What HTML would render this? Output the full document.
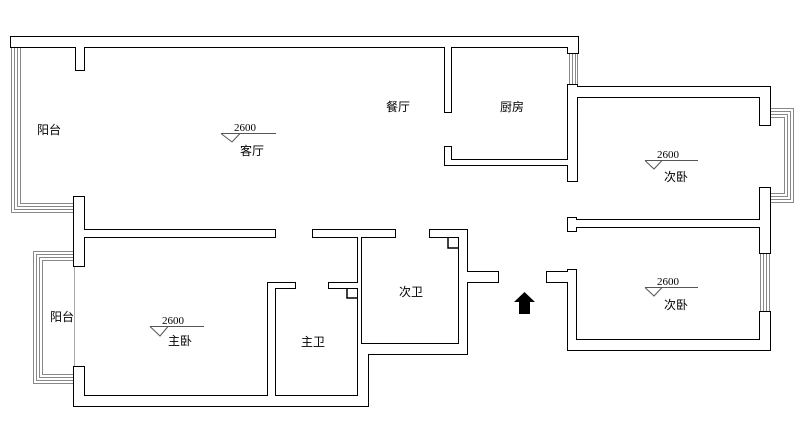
<!DOCTYPE html>
<html><head><meta charset="utf-8"><style>
html,body{margin:0;padding:0;background:#fff;width:800px;height:439px;overflow:hidden}
svg{display:block}
text{font-family:"Liberation Sans","Noto Sans CJK SC",sans-serif;fill:#000}
.n{font-family:"Liberation Serif",serif;font-size:11px}
.l{font-size:12px}
</style></head><body>
<svg width="800" height="439" viewBox="0 0 800 439" xmlns="http://www.w3.org/2000/svg">
<g fill="none" stroke="#888" stroke-width="1">
<polyline points="11.5,47 11.5,212.5 74,212.5"/>
<polyline points="14.5,47 14.5,209.5 74,209.5"/>
<polyline points="17.5,47 17.5,206.5 74,206.5"/>
<polyline points="20.5,47 20.5,203.5 74,203.5"/>
<polyline points="74,251.5 33.5,251.5 33.5,383.5 74,383.5"/>
<polyline points="74,254.5 36.5,254.5 36.5,380.5 74,380.5"/>
<polyline points="74,257.5 39.5,257.5 39.5,377.5 74,377.5"/>
<polyline points="74,260.5 42.5,260.5 42.5,374.5 74,374.5"/>
<line x1="74.5" y1="266" x2="74.5" y2="367" stroke="#aaa"/>
<polyline points="770,108.5 793.5,108.5 793.5,202.5 770,202.5"/>
<polyline points="770,111.5 790.5,111.5 790.5,199.5 770,199.5"/>
<polyline points="770,114.5 787.5,114.5 787.5,196.5 770,196.5"/>
<polyline points="770,117.5 784.5,117.5 784.5,193.5 770,193.5"/>
<rect x="569.5" y="53.5" width="8" height="31"/>
<line x1="572.5" y1="54" x2="572.5" y2="84"/><line x1="575.5" y1="54" x2="575.5" y2="84"/>
<rect x="760.5" y="253.5" width="9" height="59"/>
<line x1="763.5" y1="254" x2="763.5" y2="312"/><line x1="766.5" y1="254" x2="766.5" y2="312"/>
</g>
<g fill="#000" stroke="#000" stroke-width="2">
<rect x="11" y="37" width="567" height="10"/>
<rect x="76" y="47" width="8" height="23"/>
<rect x="74" y="197" width="10" height="69"/>
<rect x="74" y="230" width="201" height="7"/>
<rect x="74" y="367" width="10" height="39"/>
<rect x="74" y="396" width="294" height="10"/>
<rect x="358" y="237" width="3" height="159"/>
<rect x="358" y="354" width="10" height="52"/>
<rect x="361" y="344" width="106" height="10"/>
<rect x="313" y="230" width="82" height="7"/>
<rect x="430" y="230" width="37" height="7"/>
<rect x="459" y="230" width="8" height="124"/>
<rect x="459" y="272" width="39" height="10"/>
<rect x="268" y="283" width="7" height="113"/>
<rect x="268" y="283" width="27" height="5"/>
<rect x="329" y="283" width="32" height="5"/>
<rect x="445" y="47" width="6" height="65"/>
<rect x="445" y="147" width="6" height="18"/>
<rect x="445" y="160" width="124" height="5"/>
<rect x="568" y="37" width="10" height="16"/>
<rect x="568" y="85" width="9" height="96"/>
<rect x="568" y="87" width="202" height="10"/>
<rect x="760" y="87" width="10" height="38"/>
<rect x="760" y="188" width="10" height="65"/>
<rect x="760" y="312" width="10" height="38"/>
<rect x="568" y="340" width="202" height="10"/>
<rect x="568" y="270" width="8" height="80"/>
<rect x="547" y="272" width="29" height="10"/>
<rect x="568" y="220" width="192" height="7"/>
<rect x="568" y="218" width="8" height="13"/>
</g>
<g fill="#fff" stroke="none">
<rect x="11" y="37" width="567" height="10"/>
<rect x="76" y="47" width="8" height="23"/>
<rect x="74" y="197" width="10" height="69"/>
<rect x="74" y="230" width="201" height="7"/>
<rect x="74" y="367" width="10" height="39"/>
<rect x="74" y="396" width="294" height="10"/>
<rect x="358" y="237" width="3" height="159"/>
<rect x="358" y="354" width="10" height="52"/>
<rect x="361" y="344" width="106" height="10"/>
<rect x="313" y="230" width="82" height="7"/>
<rect x="430" y="230" width="37" height="7"/>
<rect x="459" y="230" width="8" height="124"/>
<rect x="459" y="272" width="39" height="10"/>
<rect x="268" y="283" width="7" height="113"/>
<rect x="268" y="283" width="27" height="5"/>
<rect x="329" y="283" width="32" height="5"/>
<rect x="445" y="47" width="6" height="65"/>
<rect x="445" y="147" width="6" height="18"/>
<rect x="445" y="160" width="124" height="5"/>
<rect x="568" y="37" width="10" height="16"/>
<rect x="568" y="85" width="9" height="96"/>
<rect x="568" y="87" width="202" height="10"/>
<rect x="760" y="87" width="10" height="38"/>
<rect x="760" y="188" width="10" height="65"/>
<rect x="760" y="312" width="10" height="38"/>
<rect x="568" y="340" width="202" height="10"/>
<rect x="568" y="270" width="8" height="80"/>
<rect x="547" y="272" width="29" height="10"/>
<rect x="568" y="220" width="192" height="7"/>
<rect x="568" y="218" width="8" height="13"/>
</g>
<g fill="none" stroke="#000" stroke-width="1.5">
<polyline points="448,237 448,248 459,248"/>
<polyline points="347,288 347,298 358,298"/>
</g>
<g fill="none" stroke="#555" stroke-width="1">
<line x1="221" y1="133.5" x2="276" y2="133.5"/><polyline points="221,133.5 232,142 240,133.5"/>
<line x1="645" y1="160.5" x2="698" y2="160.5"/><polyline points="645,160.5 654,169 662,160.5"/>
<line x1="645" y1="287.5" x2="698" y2="287.5"/><polyline points="645,287.5 654,296 662,287.5"/>
<line x1="150" y1="326.5" x2="204" y2="326.5"/><polyline points="150,326.5 160,336 168,326.5"/>
</g>
<polygon points="524.5,292 535,302 530,302 530,314 519,314 519,302 514,302" fill="#000"/>
<text class="n" x="234" y="131">2600</text>
<text class="l" x="240" y="155">客厅</text>
<text class="l" x="37" y="134">阳台</text>
<text class="l" x="386" y="111">餐厅</text>
<text class="l" x="500" y="111">厨房</text>
<text class="n" x="657" y="158">2600</text>
<text class="l" x="664" y="181">次卧</text>
<text class="n" x="657" y="285">2600</text>
<text class="l" x="664" y="309">次卧</text>
<text class="l" x="50" y="321">阳台</text>
<text class="n" x="162" y="324">2600</text>
<text class="l" x="168" y="345">主卧</text>
<text class="l" x="301" y="346">主卫</text>
<text class="l" x="399" y="296">次卫</text>
</svg>
</body></html>
